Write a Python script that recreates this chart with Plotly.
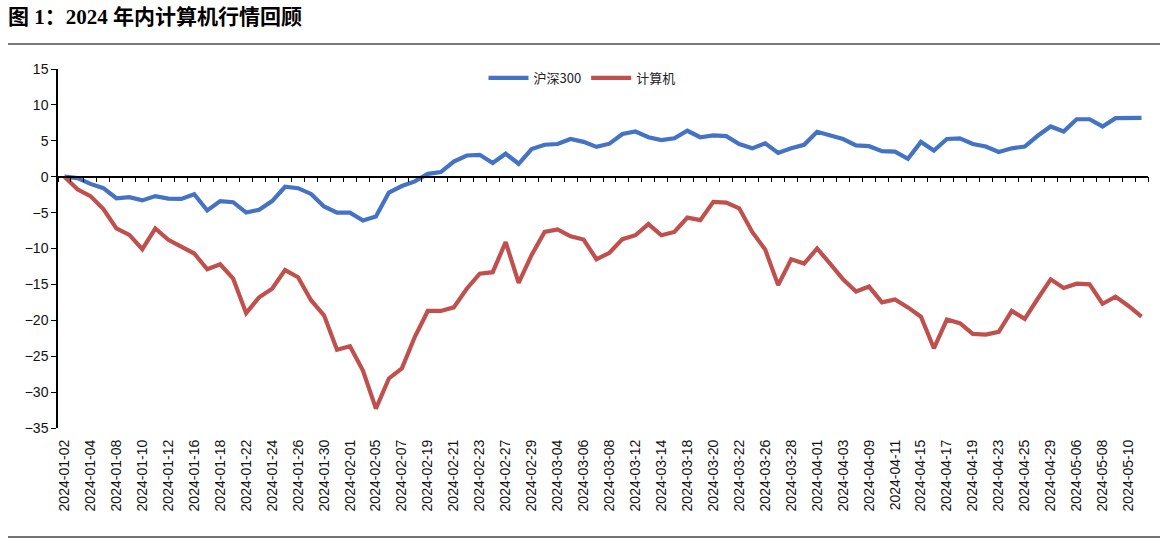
import plotly.graph_objects as go

dates = [
    "2024-01-02","2024-01-03","2024-01-04","2024-01-05","2024-01-08","2024-01-09","2024-01-10","2024-01-11",
    "2024-01-12","2024-01-15","2024-01-16","2024-01-17","2024-01-18","2024-01-19","2024-01-22","2024-01-23",
    "2024-01-24","2024-01-25","2024-01-26","2024-01-29","2024-01-30","2024-01-31","2024-02-01","2024-02-02",
    "2024-02-05","2024-02-06","2024-02-07","2024-02-08","2024-02-19","2024-02-20","2024-02-21","2024-02-22",
    "2024-02-23","2024-02-26","2024-02-27","2024-02-28","2024-02-29","2024-03-01","2024-03-04","2024-03-05",
    "2024-03-06","2024-03-07","2024-03-08","2024-03-11","2024-03-12","2024-03-13","2024-03-14","2024-03-15",
    "2024-03-18","2024-03-19","2024-03-20","2024-03-21","2024-03-22","2024-03-25","2024-03-26","2024-03-27",
    "2024-03-28","2024-03-29","2024-04-01","2024-04-02","2024-04-03","2024-04-08","2024-04-09","2024-04-10",
    "2024-04-11","2024-04-12","2024-04-15","2024-04-16","2024-04-17","2024-04-18","2024-04-19","2024-04-22",
    "2024-04-23","2024-04-24","2024-04-25","2024-04-26","2024-04-29","2024-04-30","2024-05-06","2024-05-07",
    "2024-05-08","2024-05-09","2024-05-10","2024-05-13",
]

hs300 = [
    0, -0.2, -1.0, -1.6, -3.0, -2.85, -3.3, -2.7, -3.05, -3.1,
    -2.45, -4.7, -3.4, -3.55, -5.0, -4.6, -3.4, -1.4, -1.6, -2.4,
    -4.15, -5.0, -5.0, -6.1, -5.55, -2.2, -1.3, -0.65, 0.4, 0.65,
    2.1, 2.95, 3.05, 1.9, 3.2, 1.8, 3.85, 4.45, 4.55, 5.25,
    4.85, 4.15, 4.6, 5.95, 6.3, 5.5, 5.1, 5.35, 6.4, 5.5,
    5.75, 5.65, 4.55, 3.95, 4.65, 3.3, 3.95, 4.45, 6.25, 5.8,
    5.25, 4.35, 4.25, 3.55, 3.5, 2.5, 4.85, 3.65, 5.25, 5.35,
    4.55, 4.2, 3.45, 3.95, 4.2, 5.7, 7.0, 6.3, 8.0, 8.0,
    7.0, 8.15, 8.2, 8.2,
]

computer = [
    0, -1.75, -2.7, -4.5, -7.2, -8.1, -10.1, -7.2, -8.8, -9.8,
    -10.7, -12.9, -12.2, -14.2, -19.0, -16.8, -15.6, -13.0, -14.0, -17.2,
    -19.3, -24.1, -23.6, -27.0, -32.3, -28.1, -26.7, -22.3, -18.7, -18.7,
    -18.2, -15.6, -13.5, -13.3, -9.1, -14.8, -10.9, -7.7, -7.35, -8.3,
    -8.75, -11.5, -10.6, -8.7, -8.15, -6.6, -8.15, -7.7, -5.7, -6.05,
    -3.5, -3.6, -4.4, -7.7, -10.15, -15.1, -11.5, -12.1, -10.0, -12.1,
    -14.3, -16.0, -15.3, -17.5, -17.1, -18.2, -19.5, -23.9, -19.9, -20.4,
    -21.9, -22.0, -21.6, -18.7, -19.8, -17.0, -14.3, -15.5, -14.9, -15.0,
    -17.7, -16.7, -18.0, -19.5,
]

tick_labels = dates[::2]
y_ticks = [15, 10, 5, 0, -5, -10, -15, -20, -25, -30, -35]

series_names = ["沪深300", "计算机"]
colors = ["#4472C4", "#C0504D"]

W, H = 1168, 546
ML, MR, MT, MB = 58, 20, 69, 118
plot_w = W - ML - MR
plot_h = H - MT - MB

def px_to_paper_x(px):
    return (px - ML) / plot_w

def px_to_paper_y(py):
    return (H - MB - py) / plot_h

n = len(dates)
ymin, ymax = min(y_ticks), max(y_ticks)
zero_pos = (0 - ymin) / (ymax - ymin)

fig = go.Figure()

# carrier trace for the bottom label axis
fig.add_trace(go.Scatter(
    x=dates, y=[None] * n, mode="lines", showlegend=False,
    hoverinfo="skip", xaxis="x2", yaxis="y",
))

for name, vals, col in zip(series_names, [hs300, computer], colors):
    fig.add_trace(go.Scatter(
        x=dates, y=vals, mode="lines", name=name,
        line=dict(color=col, width=4.2),
        xaxis="x", yaxis="y",
    ))

tick_font = dict(family="Liberation Sans, Arial, sans-serif", size=14, color="#111111")

fig.update_layout(
    width=W, height=H,
    margin=dict(l=ML, r=MR, t=MT, b=MB, pad=0),
    paper_bgcolor="white", plot_bgcolor="white",
    showlegend=True,
    legend=dict(
        orientation="h", x=px_to_paper_x(582), y=px_to_paper_y(78),
        xanchor="center", yanchor="middle",
        font=dict(family="Noto Sans CJK SC, Liberation Sans, sans-serif", size=13, color="#222222"),
        bgcolor="rgba(0,0,0,0)", itemwidth=40, tracegroupgap=0,
    ),
    # main x axis: the category axis crossing at y = 0, ticks between categories
    xaxis=dict(
        type="category", categoryorder="array", categoryarray=dates,
        range=[-0.5, n - 0.5],
        anchor="free", position=zero_pos, side="bottom",
        tickmode="linear", tick0=0, dtick=1, tickson="boundaries",
        ticks="outside", ticklen=5, tickwidth=1.4, tickcolor="#000000",
        showticklabels=False, showline=True, linecolor="#000000", linewidth=1.5,
        showgrid=False, zeroline=False,
    ),
    # label axis at the bottom of the plot area
    xaxis2=dict(
        type="category", categoryorder="array", categoryarray=dates,
        range=[-0.5, n - 0.5],
        overlaying="x", anchor="y", side="bottom",
        tickmode="array", tickvals=tick_labels, ticktext=tick_labels,
        tickangle=-90, ticks="", showline=False, showgrid=False, zeroline=False,
        tickfont=tick_font, ticklabelstandoff=8,
    ),
    yaxis=dict(
        range=[ymin, ymax], tickmode="array", tickvals=y_ticks,
        ticks="outside", ticklen=5, tickwidth=1.3, tickcolor="#000000",
        showline=True, linecolor="#000000", linewidth=1.5,
        showgrid=False, zeroline=False, tickfont=tick_font,
    ),
    title=dict(
        text="<b>图 1：2024 年内计算机行情回顾</b>",
        x=8 / W, xref="container", xanchor="left",
        y=1 - 17 / H, yref="container", yanchor="middle",
        font=dict(family="Times New Roman, Liberation Serif, Noto Sans CJK SC, serif", size=21, color="#000000"),
    ),
    shapes=[
        dict(type="line", xref="paper", yref="paper",
             x0=px_to_paper_x(8), x1=px_to_paper_x(1160),
             y0=px_to_paper_y(44), y1=px_to_paper_y(44),
             line=dict(color="#7a7a7a", width=2)),
        dict(type="line", xref="paper", yref="paper",
             x0=px_to_paper_x(8), x1=px_to_paper_x(1160),
             y0=px_to_paper_y(537), y1=px_to_paper_y(537),
             line=dict(color="#444444", width=1.5)),
    ],
)

fig.write_html(
    "out.html",
    config={"displayModeBar": False},
    post_script="document.body.style.margin='0';",
)
